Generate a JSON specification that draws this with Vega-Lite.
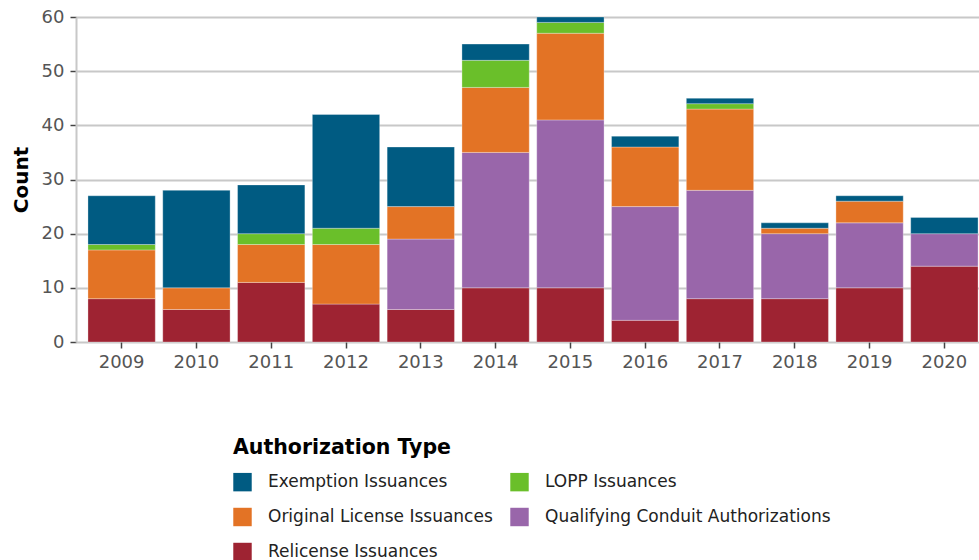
{
  "$schema": "https://vega.github.io/schema/vega-lite/v6.json",
  "autosize": {"type": "none"},
  "padding": {"left": 76, "top": 17, "right": 0, "bottom": 218},
  "width": 903,
  "height": 325,
  "config": {
    "font": "DejaVu Sans",
    "view": {"stroke": null},
    "background": "white"
  },
  "data": {
    "values": [
      {"year": "2009", "type": "Relicense Issuances", "count": 8},
      {"year": "2009", "type": "Original License Issuances", "count": 9},
      {"year": "2009", "type": "LOPP Issuances", "count": 1},
      {"year": "2009", "type": "Exemption Issuances", "count": 9},
      {"year": "2010", "type": "Relicense Issuances", "count": 6},
      {"year": "2010", "type": "Original License Issuances", "count": 4},
      {"year": "2010", "type": "Exemption Issuances", "count": 18},
      {"year": "2011", "type": "Relicense Issuances", "count": 11},
      {"year": "2011", "type": "Original License Issuances", "count": 7},
      {"year": "2011", "type": "LOPP Issuances", "count": 2},
      {"year": "2011", "type": "Exemption Issuances", "count": 9},
      {"year": "2012", "type": "Relicense Issuances", "count": 7},
      {"year": "2012", "type": "Original License Issuances", "count": 11},
      {"year": "2012", "type": "LOPP Issuances", "count": 3},
      {"year": "2012", "type": "Exemption Issuances", "count": 21},
      {"year": "2013", "type": "Relicense Issuances", "count": 6},
      {"year": "2013", "type": "Qualifying Conduit Authorizations", "count": 13},
      {"year": "2013", "type": "Original License Issuances", "count": 6},
      {"year": "2013", "type": "Exemption Issuances", "count": 11},
      {"year": "2014", "type": "Relicense Issuances", "count": 10},
      {"year": "2014", "type": "Qualifying Conduit Authorizations", "count": 25},
      {"year": "2014", "type": "Original License Issuances", "count": 12},
      {"year": "2014", "type": "LOPP Issuances", "count": 5},
      {"year": "2014", "type": "Exemption Issuances", "count": 3},
      {"year": "2015", "type": "Relicense Issuances", "count": 10},
      {"year": "2015", "type": "Qualifying Conduit Authorizations", "count": 31},
      {"year": "2015", "type": "Original License Issuances", "count": 16},
      {"year": "2015", "type": "LOPP Issuances", "count": 2},
      {"year": "2015", "type": "Exemption Issuances", "count": 1},
      {"year": "2016", "type": "Relicense Issuances", "count": 4},
      {"year": "2016", "type": "Qualifying Conduit Authorizations", "count": 21},
      {"year": "2016", "type": "Original License Issuances", "count": 11},
      {"year": "2016", "type": "Exemption Issuances", "count": 2},
      {"year": "2017", "type": "Relicense Issuances", "count": 8},
      {"year": "2017", "type": "Qualifying Conduit Authorizations", "count": 20},
      {"year": "2017", "type": "Original License Issuances", "count": 15},
      {"year": "2017", "type": "LOPP Issuances", "count": 1},
      {"year": "2017", "type": "Exemption Issuances", "count": 1},
      {"year": "2018", "type": "Relicense Issuances", "count": 8},
      {"year": "2018", "type": "Qualifying Conduit Authorizations", "count": 12},
      {"year": "2018", "type": "Original License Issuances", "count": 1},
      {"year": "2018", "type": "Exemption Issuances", "count": 1},
      {"year": "2019", "type": "Relicense Issuances", "count": 10},
      {"year": "2019", "type": "Qualifying Conduit Authorizations", "count": 12},
      {"year": "2019", "type": "Original License Issuances", "count": 4},
      {"year": "2019", "type": "Exemption Issuances", "count": 1},
      {"year": "2020", "type": "Relicense Issuances", "count": 14},
      {"year": "2020", "type": "Qualifying Conduit Authorizations", "count": 6},
      {"year": "2020", "type": "Exemption Issuances", "count": 3}
    ]
  },
  "mark": {"type": "bar", "stroke": "white", "strokeWidth": 0.5, "strokeOpacity": 0.6},
  "encoding": {
    "x": {
      "field": "year",
      "type": "ordinal",
      "title": null,
      "scale": {"range": [0, 914], "paddingInner": 0.1, "paddingOuter": 0.16},
      "axis": {
        "labelAngle": 0,
        "labelFontSize": 18,
        "labelColor": "#555555",
        "labelPadding": 5,
        "tickColor": "#444444",
        "tickSize": 6,
        "tickWidth": 1.5,
        "domain": false
      }
    },
    "y": {
      "field": "count",
      "type": "quantitative",
      "aggregate": "sum",
      "title": "Count",
      "scale": {"domain": [0, 60], "nice": false},
      "axis": {
        "values": [0, 10, 20, 30, 40, 50, 60],
        "labelFontSize": 18,
        "labelColor": "#555555",
        "labelPadding": 6,
        "tickColor": "#444444",
        "tickSize": 6,
        "tickWidth": 1.5,
        "gridColor": "#c8c8c8",
        "gridWidth": 2,
        "domainColor": "#c8c8c8",
        "domainWidth": 2,
        "titleFontSize": 20,
        "titleFontWeight": "bold",
        "titleColor": "black",
        "titlePadding": 10
      }
    },
    "color": {
      "field": "type",
      "type": "nominal",
      "title": "Authorization Type",
      "scale": {
        "domain": ["Exemption Issuances", "LOPP Issuances", "Original License Issuances", "Qualifying Conduit Authorizations", "Relicense Issuances"],
        "range": ["#005b82", "#6abf2a", "#e37325", "#9966aa", "#9e2332"]
      },
      "legend": {
        "orient": "none",
        "direction": "horizontal",
        "legendX": 157,
        "legendY": 421,
        "columns": 2,
        "columnPadding": 17,
        "rowPadding": 16,
        "symbolType": "square",
        "symbolSize": 340,
        "symbolStrokeWidth": 0,
        "labelFontSize": 17,
        "labelLimit": 0,
        "titleLimit": 0,
        "labelColor": "#222222",
        "labelOffset": 16,
        "titleFontSize": 20.5,
        "titleFontWeight": "bold",
        "titleColor": "black",
        "titlePadding": 14
      }
    },
    "order": {"field": "type", "sort": "descending"}
  }
}
